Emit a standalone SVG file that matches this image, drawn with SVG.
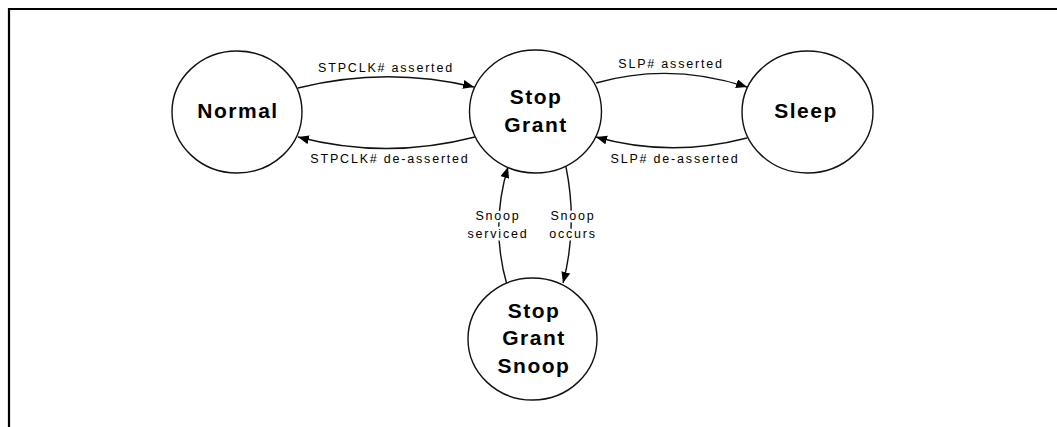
<svg xmlns="http://www.w3.org/2000/svg" width="1057" height="427" viewBox="0 0 1057 427">
<style>
.state{fill:#fff;stroke:#111;stroke-width:1.4}
.name{font-family:"Liberation Sans",Arial,sans-serif;font-weight:bold;font-size:21px;letter-spacing:1.5px;fill:#000;text-anchor:middle}
.lbl{font-family:"Liberation Sans",Arial,sans-serif;font-size:12.5px;letter-spacing:1.8px;fill:#000;text-anchor:middle;stroke:#fff;stroke-width:5px;paint-order:stroke;stroke-linejoin:round}
.edge{fill:none;stroke:#111;stroke-width:1.4;marker-end:url(#arr)}
</style>
<defs>
<marker id="arr" markerUnits="userSpaceOnUse" markerWidth="12" markerHeight="10" refX="11" refY="4.5" orient="auto">
<path d="M0,0 L11,4.5 L0,9 Z" fill="#000"/>
</marker>
</defs>
<rect width="1057" height="427" fill="#fff"/>
<path d="M9,427 V9 H1057" fill="none" stroke="#000" stroke-width="2.2"/>
<g id="connectors">
<path class="edge" d="M298,88 Q386,66 474,87"/>
<path class="edge" d="M475,137 Q386,160 298,137"/>
<path class="edge" d="M596,83 Q670,62 747,87"/>
<path class="edge" d="M747,138 Q670,158 596,137"/>
<path class="edge" d="M507,285 Q490,226 508,167"/>
<path class="edge" d="M566,167 Q578,226 563,283"/>
<text class="lbl" x="386" y="72">STPCLK# asserted</text>
<text class="lbl" x="390" y="163">STPCLK# de-asserted</text>
<text class="lbl" x="671" y="68">SLP# asserted</text>
<text class="lbl" x="675" y="163">SLP# de-asserted</text>
<text class="lbl" x="498" y="220">Snoop</text>
<text class="lbl" x="498" y="238">serviced</text>
<text class="lbl" x="573" y="220">Snoop</text>
<text class="lbl" x="573" y="238">occurs</text>
</g>
<g id="normal">
<ellipse class="state" cx="237" cy="112" rx="65" ry="61"/>
<text class="name" x="238" y="118">Normal</text>
</g>
<g id="stop-grant">
<ellipse class="state" cx="535.5" cy="111.5" rx="66" ry="61.5"/>
<text class="name" x="536" y="104">Stop</text>
<text class="name" x="536" y="132">Grant</text>
</g>
<g id="sleep">
<ellipse class="state" cx="807.5" cy="112" rx="65.5" ry="61"/>
<text class="name" x="806" y="118">Sleep</text>
</g>
<g id="stop-grant-snoop">
<ellipse class="state" cx="532.5" cy="339" rx="64.5" ry="61"/>
<text class="name" x="534" y="318">Stop</text>
<text class="name" x="534" y="345">Grant</text>
<text class="name" x="534" y="373">Snoop</text>
</g>
</svg>
